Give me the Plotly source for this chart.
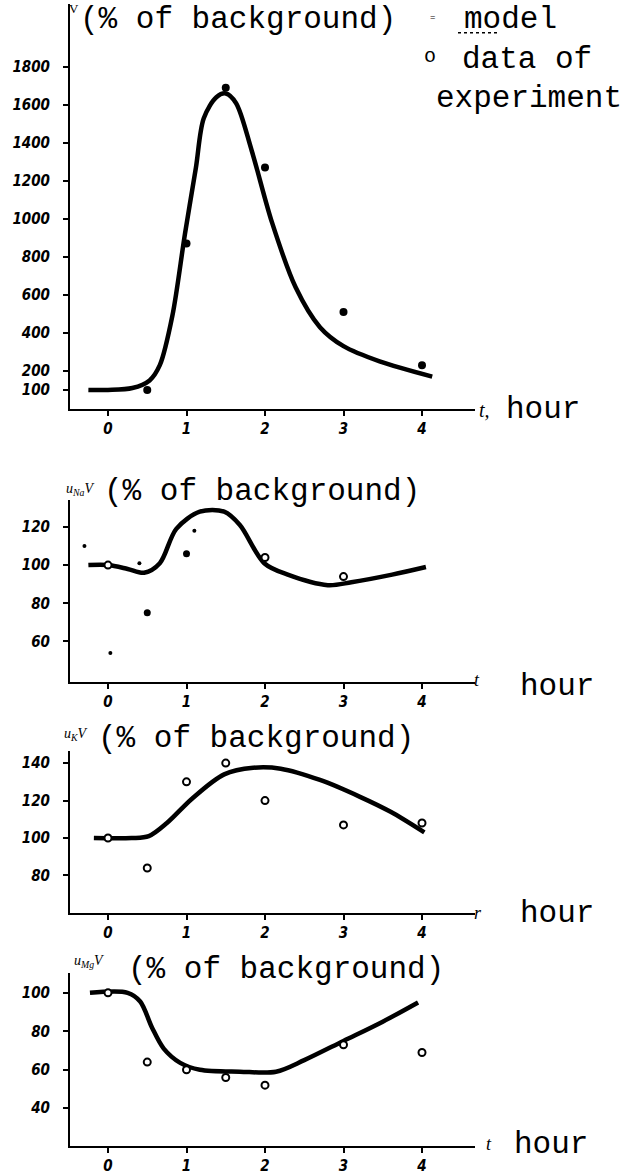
import plotly.graph_objects as go

W, H = 625, 1175

# ---------------- data ----------------
# Panel 1: V (% of background)
v_model_t = [-0.25, 0.0, 0.31, 0.53, 0.66, 0.82, 0.98, 1.12, 1.22, 1.38, 1.5, 1.63, 1.83, 2.09, 2.39, 2.7, 3.0, 3.46, 4.13]
v_model_v = [100, 100, 110, 150, 230, 490, 920, 1270, 1530, 1640, 1660, 1610, 1360, 980, 640, 430, 330, 250, 170]
v_exp_t = [0.5, 1, 1.5, 2, 3, 4]
v_exp_v = [100, 870, 1690, 1270, 510, 230]

# Panel 2: u_Na V
na_model_t = [-0.25, 0.0, 0.25, 0.46, 0.66, 0.87, 1.17, 1.48, 1.68, 1.99, 2.29, 2.8, 3.1, 3.62, 4.05]
na_model_v = [100, 100, 98, 96, 101, 119, 128, 128, 121, 101, 95, 89.5, 91, 95, 99]
na_open_t = [0, 2, 3]
na_open_v = [100, 104, 94]
na_fill_t = [0.5, 1]
na_fill_v = [75, 106]
na_dot_t = [-0.3, 0.4, 0.03, 1.1]
na_dot_v = [110, 101, 54, 118]

# Panel 3: u_K V
k_model_t = [-0.18, 0.3, 0.52, 0.75, 1.07, 1.48, 1.85, 2.2, 2.7, 3.21, 3.6, 4.03]
k_model_v = [100, 100, 101, 108, 121, 134, 137.5, 137, 131, 122, 114, 103]
k_exp_t = [0, 0.5, 1, 1.5, 2, 3, 4]
k_exp_v = [100, 84, 130, 140, 120, 107, 108]

# Panel 4: u_Mg V
mg_model_t = [-0.23, 0.25, 0.41, 0.56, 0.71, 0.92, 1.17, 1.68, 2.14, 2.5, 3.0, 3.5, 3.95]
mg_model_v = [100, 100, 95.5, 82, 71, 63.6, 60, 59, 59, 65, 75, 85, 95]
mg_exp_t = [0, 0.5, 1, 1.5, 2, 3, 4]
mg_exp_v = [100, 64, 60, 56, 52, 73, 69]

x_ticks = [0, 1, 2, 3, 4]
x_ticklabels = ["0", "1", "2", "3", "4"]
y1_ticks = [100, 200, 400, 600, 800, 1000, 1200, 1400, 1600, 1800]
y1_labels = ["100", "200", "400", "600", "800", "1000", "1200", "1400", "1600", "1800"]
y2_ticks = [60, 80, 100, 120]
y3_ticks = [80, 100, 120, 140]
y4_ticks = [40, 60, 80, 100]

# ---------------- layout helpers ----------------
def px(x):
    return x / W

def py(y):
    return 1 - y / H

X0, X1 = 70, 475
T0 = 108.0       # pixel of t = 0
TS = 78.5        # px per hour
xrange_ = [(X0 - T0) / TS, (X1 - T0) / TS]

panels = [
    # (top px, bottom px, yrange)
    (4, 411, [0, 407 / 0.191]),
    (503, 685, [39, 133.9]),
    (755, 918, [59.8, 146.4]),
    (978, 1152, [20.3, 110.3]),
]

MONO = "Courier New, Liberation Mono, monospace"
TICKFONT = dict(family="DejaVu Sans Condensed, Liberation Sans Narrow, sans-serif",
                size=15, color="black", weight="bold", style="italic")

fig = go.Figure()

LINE = dict(color="black", width=4.5, shape="spline", smoothing=0.9)

def add_line(t, v, i):
    fig.add_trace(go.Scatter(x=t, y=v, mode="lines", line=LINE,
                             xaxis=f"x{i if i > 1 else ''}", yaxis=f"y{i if i > 1 else ''}",
                             showlegend=False, hoverinfo="skip"))

def add_pts(t, v, i, filled=False, size=7):
    if filled:
        marker = dict(color="black", size=size, line=dict(width=0))
    else:
        marker = dict(color="white", size=size, line=dict(color="black", width=2))
    fig.add_trace(go.Scatter(x=t, y=v, mode="markers", marker=marker,
                             xaxis=f"x{i if i > 1 else ''}", yaxis=f"y{i if i > 1 else ''}",
                             showlegend=False, hoverinfo="skip"))

add_line(v_model_t, v_model_v, 1)
add_pts(v_exp_t, v_exp_v, 1, filled=True, size=8)

add_line(na_model_t, na_model_v, 2)
add_pts(na_open_t, na_open_v, 2)
add_pts(na_fill_t, na_fill_v, 2, filled=True, size=7)
add_pts(na_dot_t, na_dot_v, 2, filled=True, size=4)

add_line(k_model_t, k_model_v, 3)
add_pts(k_exp_t, k_exp_v, 3)

add_line(mg_model_t, mg_model_v, 4)
add_pts(mg_exp_t, mg_exp_v, 4)

layout = dict(
    width=W, height=H,
    margin=dict(l=0, r=0, t=0, b=0),
    paper_bgcolor="white", plot_bgcolor="white",
    showlegend=False,
)

ytick_sets = [
    (y1_ticks, y1_labels),
    (y2_ticks, [str(v) for v in y2_ticks]),
    (y3_ticks, [str(v) for v in y3_ticks]),
    (y4_ticks, [str(v) for v in y4_ticks]),
]

for i, (top, bot, yr) in enumerate(panels, start=1):
    sfx = "" if i == 1 else str(i)
    layout[f"xaxis{sfx}"] = dict(
        domain=[px(X0), px(X1)], range=xrange_, anchor=f"y{sfx}",
        showline=True, linecolor="black", linewidth=2, showgrid=False, zeroline=False,
        ticks="outside", ticklen=5, tickwidth=2, tickcolor="black",
        tickvals=x_ticks, ticktext=x_ticklabels, tickfont=TICKFONT,
        fixedrange=True,
    )
    tv, tt = ytick_sets[i - 1]
    layout[f"yaxis{sfx}"] = dict(
        domain=[py(bot), py(top)], range=yr, anchor=f"x{sfx}",
        showline=True, linecolor="black", linewidth=2, showgrid=False, zeroline=False,
        ticks="outside", ticklen=5, tickwidth=2, tickcolor="black",
        tickvals=tv, ticktext=tt, tickfont=TICKFONT, ticklabelstandoff=10,
        fixedrange=True,
    )

ann = []

def text(x, y, s, size=31, xanchor="left", yanchor="middle", family=MONO, **kw):
    ann.append(dict(x=px(x), y=py(y), xref="paper", yref="paper", text=s,
                    showarrow=False, xanchor=xanchor, yanchor=yanchor,
                    font=dict(family=family, size=size, color="black", **kw)))

SERIF = "Liberation Serif, DejaVu Serif, serif"

# panel 1 titles & legend
text(67, 9, "V", size=13, family=SERIF)
text(78, 20, "(% of background)")
text(462, 20, "model")
text(460, 60, "data of")
text(434, 99, "experiment")
text(422, 57, "o", size=20)
text(428, 18, "=", size=9)

# x-axis unit labels
text(477, 412, "t,", size=20, family=SERIF, style="italic")
text(504, 412, "hour")
text(472, 683, "t", size=18, family=SERIF, style="italic")
text(518, 690, "hour")
text(472, 918, "r", size=18, family=SERIF, style="italic")
text(518, 918, "hour")
text(484, 1150, "t", size=18, family=SERIF, style="italic")
text(512, 1150, "hour")

# lower panel titles
text(64, 492, "u<sub>Na</sub>V", size=14, family=SERIF, style="italic")
text(102, 494, "(% of background)")
text(62, 738, "u<sub>K</sub>V", size=14, family=SERIF, style="italic")
text(96, 742, "(% of background)")
text(72, 966, "u<sub>Mg</sub>V", size=14, family=SERIF, style="italic")
text(126, 974, "(% of background)")

layout["annotations"] = ann
layout["shapes"] = [
    dict(type="line", xref="paper", yref="paper", x0=px(458), x1=px(500), y0=py(33), y1=py(33),
         line=dict(color="black", width=1.5, dash="dot")),
]

fig.update_layout(**layout)
fig.write_html("out.html")
